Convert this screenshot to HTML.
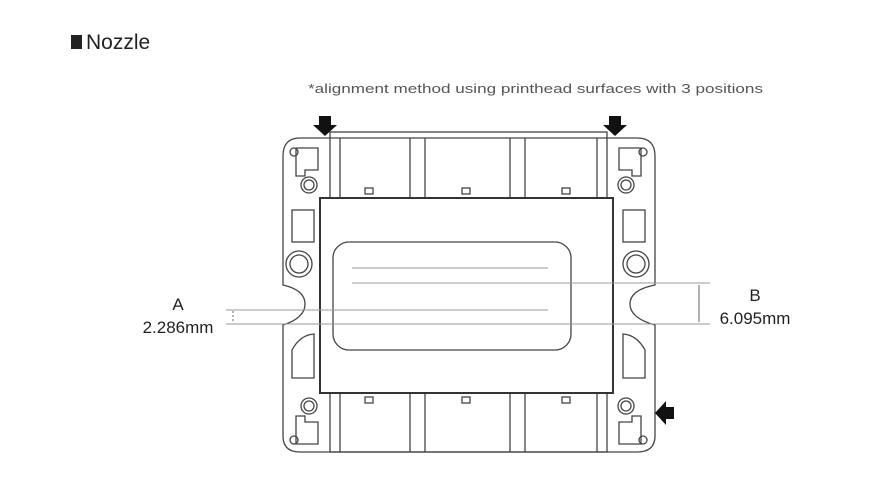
<!DOCTYPE html>
<html><head><meta charset="utf-8"><style>
html,body{margin:0;padding:0;background:#fff;}
svg{display:block;}
text{font-family:"Liberation Sans",sans-serif;}
</style></head><body>
<svg width="870" height="501" viewBox="0 0 870 501" xmlns="http://www.w3.org/2000/svg">
<rect x="71" y="35" width="11" height="14" fill="#222"/>
<text x="86" y="49" font-size="21" fill="#222">Nozzle</text>
<text x="308" y="93" font-size="13" fill="#555" textLength="455" lengthAdjust="spacingAndGlyphs">*alignment method using printhead surfaces with 3 positions</text>

<g fill="none" stroke="#444" stroke-width="1.3">
<path d="M300 138 H637 Q655 138 655 156 V285 Q630 290 630 304 Q630 318 655 325 V436 Q655 452 637 452 H300 Q283 452 283 436 V325 Q305 318 305 304 Q305 290 283 285 V156 Q283 138 300 138 Z"/>
<rect x="330" y="132" width="277" height="66"/>
<rect x="330" y="393" width="277" height="59"/>
<line x1="340" y1="138" x2="340" y2="198"/><line x1="597" y1="138" x2="597" y2="198"/>
<line x1="340" y1="393" x2="340" y2="452"/><line x1="597" y1="393" x2="597" y2="452"/>
<line x1="410" y1="138" x2="410" y2="198"/><line x1="425" y1="138" x2="425" y2="198"/>
<line x1="510" y1="138" x2="510" y2="198"/><line x1="525" y1="138" x2="525" y2="198"/>
<line x1="410" y1="393" x2="410" y2="452"/><line x1="425" y1="393" x2="425" y2="452"/>
<line x1="510" y1="393" x2="510" y2="452"/><line x1="525" y1="393" x2="525" y2="452"/>
<rect x="365" y="188" width="8" height="6"/><rect x="462" y="188" width="8" height="6"/><rect x="562" y="188" width="8" height="6"/>
<rect x="365" y="397" width="8" height="6"/><rect x="462" y="397" width="8" height="6"/><rect x="562" y="397" width="8" height="6"/>
<circle cx="294" cy="152" r="4"/><circle cx="643" cy="152" r="4"/><circle cx="294" cy="440" r="4"/><circle cx="643" cy="440" r="4"/>
<circle cx="309" cy="185" r="8"/><circle cx="309" cy="185" r="5"/>
<circle cx="626" cy="185" r="8"/><circle cx="626" cy="185" r="5"/>
<circle cx="309" cy="406" r="8"/><circle cx="309" cy="406" r="5"/>
<circle cx="626" cy="406" r="8"/><circle cx="626" cy="406" r="5"/>
<path d="M296 148 H318 V170 H305 V176 H296 Z"/><path d="M641 148 H619 V170 H632 V176 H641 Z"/>
<path d="M296 444 H318 V422 H305 V416 H296 Z"/><path d="M641 444 H619 V422 H632 V416 H641 Z"/>
<rect x="292" y="210" width="22" height="32"/><rect x="623" y="210" width="22" height="32"/>
<path d="M292 378 V350 Q300 335 314 334 V378 Z"/><path d="M645 378 V350 Q637 335 623 334 V378 Z"/>
<circle cx="299" cy="264" r="13"/><circle cx="299" cy="264" r="9"/>
<circle cx="636" cy="264" r="13"/><circle cx="636" cy="264" r="9"/>
</g>
<rect x="320" y="198" width="293" height="195" fill="#fff" stroke="#333" stroke-width="2"/>
<rect x="333" y="242" width="238" height="108" rx="16" fill="none" stroke="#444" stroke-width="1.3"/>
<g stroke="#999" stroke-width="1">
<line x1="352" y1="268" x2="548" y2="268"/>
<line x1="352" y1="283" x2="710" y2="283"/>
<line x1="226" y1="310" x2="548" y2="310"/>
<line x1="226" y1="324" x2="710" y2="324"/>
</g>
<line x1="699" y1="285" x2="699" y2="322" stroke="#666"/>
<line x1="233" y1="311" x2="233" y2="323" stroke="#666" stroke-dasharray="2,2"/>
<text x="178" y="310" font-size="17" fill="#222" text-anchor="middle">A</text>
<text x="178" y="333" font-size="17" fill="#222" text-anchor="middle">2.286mm</text>
<text x="755" y="301" font-size="17" fill="#222" text-anchor="middle">B</text>
<text x="755" y="324" font-size="17" fill="#222" text-anchor="middle">6.095mm</text>
<path d="M319 116 H331 V125 H337 L325 136 L313 125 H319 Z" fill="#111"/>
<path d="M609 116 H621 V125 H627 L615 136 L603 125 H609 Z" fill="#111"/>
<path d="M674 407 V419 H666 V425 L655 413 L666 401 V407 Z" fill="#111"/>
</svg>
</body></html>
